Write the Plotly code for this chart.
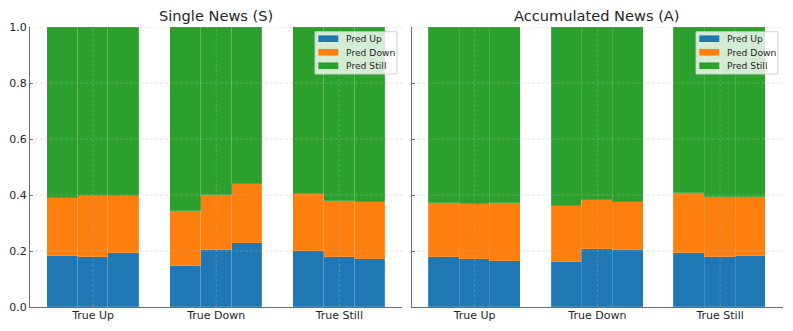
import plotly.graph_objects as go

# ---------------- data ----------------
true_labels = ["True Up", "True Down", "True Still"]
pred_labels = ["Pred Up", "Pred Down", "Pred Still"]
runs_per_group = 3
panel_titles = ["Single News (S)", "Accumulated News (A)"]

# Single News (S): 3 bars per true class (True Up x3, True Down x3, True Still x3)
single_up = [0.181, 0.179, 0.192, 0.145, 0.204, 0.227, 0.199, 0.177, 0.171]
single_down = [0.208, 0.219, 0.203, 0.198, 0.195, 0.211, 0.203, 0.200, 0.203]
single_still = [0.611, 0.602, 0.605, 0.657, 0.601, 0.562, 0.598, 0.623, 0.626]

# Accumulated News (A)
accum_up = [0.179, 0.171, 0.165, 0.162, 0.208, 0.204, 0.192, 0.180, 0.183]
accum_down = [0.191, 0.196, 0.208, 0.200, 0.173, 0.172, 0.216, 0.213, 0.209]
accum_still = [0.630, 0.633, 0.627, 0.638, 0.619, 0.624, 0.592, 0.607, 0.608]

y_ticks = [0.0, 0.2, 0.4, 0.6, 0.8, 1.0]

# ---------------- style ----------------
colors = ["#1f77b4", "#ff7f0e", "#2ca02c"]
bar_w = 0.25
text_col = "#262626"
spine_col = "#6e6e6e"
grid_col = "rgba(176,176,176,0.5)"
font_fam = "DejaVu Sans, Liberation Sans, sans-serif"

# page body has an 8px margin; figure is sized to fill the rest of the window
OFF = 8
W, H = 793 - OFF, 331 - OFF
ml, mr, mt, mb = 30 - OFF, 10, 27 - OFF, H - (306.7 - OFF)
pw = W - ml - mr
ph = H - mt - mb


def px(xw):  # window pixel x -> paper
    return (xw - OFF - ml) / pw


def py(yw):  # window pixel y -> paper
    return (H - mb - (yw - OFF)) / ph


left_dom = [0.0, px(402.4)]
right_dom = [px(411.7), 1.0]

x_pos = [g + (k - 1) * bar_w for g in range(len(true_labels)) for k in range(runs_per_group)]
x_range = [-0.5125, 2.5125]

fig = go.Figure()
panels = [
    (single_up, single_down, single_still, "x", "y"),
    (accum_up, accum_down, accum_still, "x2", "y2"),
]
for up, down, still, xa, ya in panels:
    for name, vals, col in zip(pred_labels, [up, down, still], colors):
        fig.add_trace(go.Bar(
            x=x_pos, y=vals, width=bar_w, name=name, xaxis=xa, yaxis=ya,
            marker=dict(color=col, line=dict(color="rgba(255,255,255,0.18)", width=0.8)),
            showlegend=False,
        ))

axis_common = dict(
    showgrid=False, zeroline=False, showline=True, linecolor=spine_col, linewidth=1.2,
    ticks="inside", ticklen=3, tickwidth=1, tickcolor=spine_col,
    tickfont=dict(size=11, color=text_col, family=font_fam), layer="above traces",
)

fig.update_layout(
    width=W, height=H, barmode="stack", bargap=0,
    margin=dict(l=ml, r=mr, t=mt, b=mb, autoexpand=False),
    paper_bgcolor="white", plot_bgcolor="white",
    font=dict(family=font_fam, color=text_col),
    xaxis=dict(domain=left_dom, range=x_range, tickvals=[0, 1, 2], ticktext=true_labels,
               anchor="y", ticklabelstandoff=-2, **axis_common),
    yaxis=dict(domain=[0, 1], range=[0, 1], tickvals=y_ticks, tickformat=".1f",
               anchor="x", **axis_common),
    xaxis2=dict(domain=right_dom, range=x_range, tickvals=[0, 1, 2], ticktext=true_labels,
                anchor="y2", ticklabelstandoff=-2, **axis_common),
    yaxis2=dict(domain=[0, 1], range=[0, 1], tickvals=y_ticks, showticklabels=False,
                anchor="x2", **axis_common),
    showlegend=False,
)

# titles
for dom, title in zip([left_dom, right_dom], panel_titles):
    fig.add_annotation(text=title, x=(dom[0] + dom[1]) / 2, xref="paper",
                       y=py(16), yref="paper",
                       showarrow=False, xanchor="center", yanchor="middle",
                       font=dict(size=14.6, color=text_col, family=font_fam))

# dashed grid drawn above the bars (as in the reference)
for xa, ya in [("x", "y"), ("x2", "y2")]:
    for v in y_ticks[1:]:
        fig.add_shape(type="line", xref=f"{xa} domain", yref=ya, x0=0, x1=1, y0=v, y1=v,
                      line=dict(color=grid_col, width=0.8, dash="3px,2px"), layer="above")
    for g in range(len(true_labels)):
        fig.add_shape(type="line", xref=xa, yref=f"{ya} domain", x0=g, x1=g, y0=0, y1=1,
                      line=dict(color=grid_col, width=0.8, dash="3px,2px"), layer="above")

# legends (one per panel, upper right)
for box_left in [315, 696]:
    box_right = box_left + 82
    fig.add_shape(type="rect", xref="paper", yref="paper",
                  x0=px(box_left), x1=px(box_right), y0=py(74), y1=py(31.7),
                  fillcolor="rgba(255,255,255,0.8)", line=dict(color="rgba(204,204,204,0.9)", width=1),
                  layer="above")
    for i, (name, col) in enumerate(zip(pred_labels, colors)):
        cy = 38.7 + i * 13.5
        fig.add_shape(type="rect", xref="paper", yref="paper",
                      x0=px(box_left + 3.3), x1=px(box_left + 23.3),
                      y0=py(cy + 3.3), y1=py(cy - 3.3),
                      fillcolor=col, line=dict(width=0), layer="above")
        fig.add_annotation(text=name, x=px(box_left + 29), y=py(cy), xref="paper", yref="paper",
                           showarrow=False, xanchor="left", yanchor="middle",
                           font=dict(size=9.2, color=text_col, family=font_fam))

fig.write_html("out.html")
